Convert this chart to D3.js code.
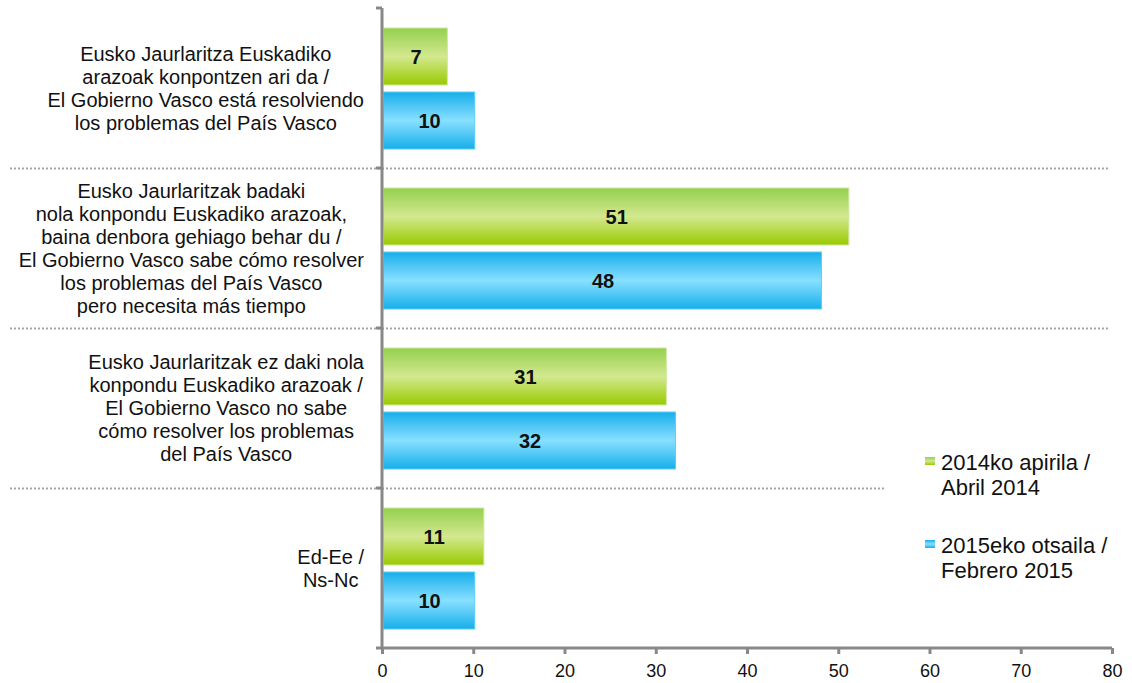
<!DOCTYPE html>
<html>
<head>
<meta charset="utf-8">
<script src="https://cdn.jsdelivr.net/npm/d3@7"></script>
<style>
    body { margin: 0; background: #fff; }
    svg text { font-family: "Liberation Sans", Arial, sans-serif; fill: #111; }
</style>
</head>
<body>
<script>
// categories (label lines) and series values
var categories = [
    ["Eusko Jaurlaritza Euskadiko", "arazoak konpontzen ari da /", "El Gobierno Vasco está resolviendo", "los problemas del País Vasco"],
    ["Eusko Jaurlaritzak badaki", "nola konpondu Euskadiko arazoak,", "baina denbora gehiago behar du /", "El Gobierno Vasco sabe cómo resolver", "los problemas del País Vasco", "pero necesita más tiempo"],
    ["Eusko Jaurlaritzak ez daki nola", "konpondu Euskadiko arazoak /", "El Gobierno Vasco no sabe", "cómo resolver los problemas", "del País Vasco"],
    ["Ed-Ee /", "Ns-Nc"]
];
var series2014 = [7, 51, 31, 11];
var series2015 = [10, 48, 32, 10];
var seriesNames = [["2014ko apirila /", "Abril 2014"], ["2015eko otsaila /", "Febrero 2015"]];
var xTicks = [0, 10, 20, 30, 40, 50, 60, 70, 80];

var width = 1132, height = 683;
var svg = d3.select("body").append("svg")
    .attr("width", width)
    .attr("height", height);

var defs = svg.append("defs");
function grad(id, stops) {
    var g = defs.append("linearGradient").attr("id", id)
        .attr("x1", 0).attr("y1", 0).attr("x2", 0).attr("y2", 1);
    stops.forEach(function(s) {
        g.append("stop").attr("offset", s[0]).attr("stop-color", s[1]);
    });
}
grad("gGreen", [[0, "#94d04e"], [0.5, "#d3e88f"], [1, "#99ca00"]]);
grad("gBlue", [[0, "#17aeea"], [0.5, "#88e0ff"], [1, "#17aeea"]]);

var x = d3.scaleLinear().domain([0, 80]).range([382, 1112]);
var y = d3.scaleBand().domain(d3.range(categories.length)).range([8, 648]);

// dotted separators
[1, 2, 3].forEach(function(i) {
    svg.append("line")
        .attr("x1", 10)
        .attr("x2", i === 3 ? 885 : 1110)
        .attr("y1", y(i) + 0.5).attr("y2", y(i) + 0.5)
        .attr("stroke", "#a6a6a6")
        .attr("stroke-width", 2)
        .attr("stroke-dasharray", "2,2");
});

// bars
var barH = 57;
var rows = [
    { vals: series2014, fill: "url(#gGreen)", stroke: "#cfe9a6", off: 20 },
    { vals: series2015, fill: "url(#gBlue)", stroke: "#5fcdf5", off: 84 }
];
rows.forEach(function(r) {
    var g = svg.append("g");
    g.selectAll("rect")
        .data(r.vals)
        .enter()
        .append("rect")
        .attr("x", x(0) + 1.5)
        .attr("y", function(d, i) { return y(i) + r.off; })
        .attr("width", function(d) { return x(d) - x(0); })
        .attr("height", barH)
        .attr("fill", r.fill)
        .attr("stroke", r.stroke)
        .attr("stroke-width", 1);
    g.selectAll("text")
        .data(r.vals)
        .enter()
        .append("text")
        .attr("x", function(d) { return (x(d) + x(0)) / 2 + 2; })
        .attr("y", function(d, i) { return y(i) + r.off + barH / 2 + 7; })
        .attr("text-anchor", "middle")
        .style("font-size", "20px")
        .style("font-weight", "bold")
        .text(function(d) { return d; });
});

// axes
var xAxis = svg.append("g")
    .attr("transform", "translate(0,648)")
    .call(d3.axisBottom(x).tickValues(xTicks).tickSize(6).tickPadding(10));
xAxis.select(".domain").attr("stroke", "#888").attr("stroke-width", 3)
    .attr("d", "M" + (x(0) - 6) + ",0H" + x(80));
xAxis.selectAll(".tick line").attr("stroke", "#888").attr("stroke-width", 3);
xAxis.selectAll(".tick text")
    .style("font-size", "18px")
    .style("font-family", "Liberation Sans, Arial, sans-serif")
    .attr("fill", "#111");

svg.append("line")
    .attr("x1", x(0)).attr("x2", x(0))
    .attr("y1", 8).attr("y2", 648)
    .attr("stroke", "#888").attr("stroke-width", 3);
d3.range(categories.length).forEach(function(i) {
    svg.append("line")
        .attr("x1", x(0) - 6).attr("x2", x(0))
        .attr("y1", y(i)).attr("y2", y(i))
        .attr("stroke", "#888").attr("stroke-width", 3);
});

// category labels: centred lines, block right-aligned next to the axis
var lineH = 23, labelRight = 364;
categories.forEach(function(lines, i) {
    var cy = y(i) + y.bandwidth() / 2;
    var t = svg.append("text")
        .attr("text-anchor", "middle")
        .style("font-size", "20px");
    var spans = lines.map(function(l, j) {
        return t.append("tspan")
            .attr("y", cy + (j - (lines.length - 1) / 2) * lineH + 7)
            .text(l);
    });
    var maxW = d3.max(spans, function(s) { return s.node().getComputedTextLength(); });
    spans.forEach(function(s) { s.attr("x", labelRight - maxW / 2); });
});

// legend
var legend = svg.append("g");
[["url(#gGreen)", 457], ["url(#gBlue)", 540]].forEach(function(l, i) {
    legend.append("rect")
        .attr("x", 925).attr("y", l[1])
        .attr("width", 10).attr("height", 8)
        .attr("fill", l[0]);
    var t = legend.append("text").style("font-size", "22px");
    seriesNames[i].forEach(function(s, j) {
        t.append("tspan").attr("x", 941).attr("y", l[1] + 13 + j * 25).text(s);
    });
});
</script>
</body>
</html>
